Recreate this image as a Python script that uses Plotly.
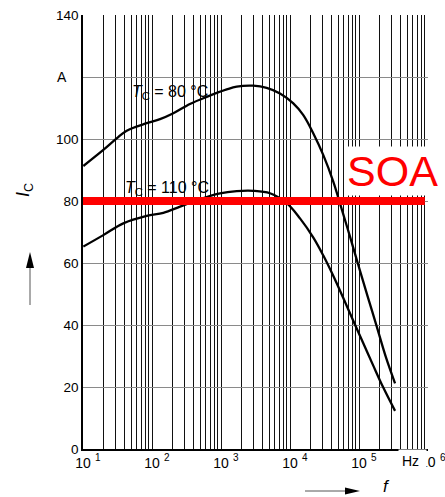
import numpy as np
import plotly.graph_objects as go

# ---- data -------------------------------------------------------------
# Collector current I_C (A) versus switching frequency f (Hz)
f_80 = [10.1, 19.7, 30.8, 43, 83.8, 130.6, 204, 355, 621, 1211, 1690, 2940,
        4590, 7160, 11170, 15600, 21800, 30400, 42500, 54800, 74100, 99400,
        134000, 181000, 244000, 333000]
ic_80 = [91.3, 96.5, 100.2, 102.7, 105.1, 106.4, 108.3, 111.3, 113.6, 116.0,
         116.9, 117.2, 116.5, 114.7, 111.5, 107.7, 101.8, 94.8, 86.2, 78.2,
         68.5, 58.8, 49.1, 39.5, 29.8, 21.2]

f_110 = [10.1, 19.7, 38.4, 83.8, 146, 255, 497, 968, 1690, 2940, 5130, 8960,
         13960, 21800, 30400, 42500, 59200, 82600, 115000, 161000, 225000,
         333000]
ic_110 = [65.3, 69.0, 72.8, 75.2, 76.2, 78.2, 80.6, 82.5, 83.2, 83.3, 82.5,
          79.3, 74.4, 68.2, 62.4, 55.8, 48.7, 41.4, 34.2, 26.9, 19.8, 12.3]

# safe operating area limit
soa_f = [10, 9.0e5]
soa_ic = [80, 80]

decades = [1, 2, 3, 4, 5, 6]
y_ticks = [0, 20, 40, 60, 80, 100, 120, 140]
y_text = ["0", "20", "40", "60", "80", "100", "", "140"]

# ---- geometry helpers (plot area in pixels) ----------------------------
L, R, T, B = 83, 428, 15, 449
W, H = R - L, B - T


def px_x(p):
    return (p - L) / W


def px_y(p):
    return (B - p) / H


def lx(p):
    # pixel column -> log10(f) on the x axis
    return 1 + (p - L) / (W / 5)


def ly(p):
    # pixel row -> I_C value
    return (B - p) * 140 / H


FONT = "Liberation Sans, Arial, Helvetica, sans-serif"

# gridline positions: 1..9 times every decade; decade labels as "10" + exponent
grid_vals = []
grid_text = []
for d in decades[:-1]:
    for m in range(1, 10):
        grid_vals.append(m * 10 ** d)
        grid_text.append("10" if m == 1 else "")
grid_vals.append(10 ** decades[-1])
grid_text.append("")  # last decade label is drawn as an annotation below

fig = go.Figure()
fig.add_trace(go.Scatter(x=f_80, y=ic_80, mode="lines",
                         line=dict(color="black", width=2.3, shape="spline", smoothing=1.0),
                         showlegend=False, hoverinfo="skip"))
fig.add_trace(go.Scatter(x=f_110, y=ic_110, mode="lines",
                         line=dict(color="black", width=2.3, shape="spline", smoothing=1.0),
                         showlegend=False, hoverinfo="skip"))
fig.add_trace(go.Scatter(x=soa_f, y=soa_ic, mode="lines",
                         line=dict(color="#ff0000", width=8),
                         showlegend=False, hoverinfo="skip"))

shapes = []
# white panels behind the curve labels (hide the grid there)
for x0, x1, y0, y1 in [(113, 122, 79, 107), (122, 227, 73, 107),
                       (113, 227, 172, 197), (172.3, 175.3, 107, 172)]:
    shapes.append(dict(type="rect", layer="between", xref="x", yref="y",
                       x0=lx(x0), x1=lx(x1), y0=ly(y1), y1=ly(y0),
                       fillcolor="white", line=dict(width=0)))

# direction arrows next to the axis titles
shapes.append(dict(type="line", xref="paper", yref="paper",
                   x0=px_x(30), x1=px_x(30), y0=px_y(305), y1=px_y(267),
                   line=dict(color="#555", width=1)))
shapes.append(dict(type="path", xref="paper", yref="paper",
                   path=f"M {px_x(30)},{px_y(252)} L {px_x(26)},{px_y(268)} "
                        f"L {px_x(34)},{px_y(268)} Z",
                   fillcolor="black", line=dict(width=0)))
shapes.append(dict(type="line", xref="paper", yref="paper",
                   x0=px_x(305), x1=px_x(346), y0=px_y(491), y1=px_y(491),
                   line=dict(color="#555", width=1)))
shapes.append(dict(type="path", xref="paper", yref="paper",
                   path=f"M {px_x(360)},{px_y(491)} L {px_x(345)},{px_y(487.5)} "
                        f"L {px_x(345)},{px_y(494.5)} Z",
                   fillcolor="black", line=dict(width=0)))

annotations = []
# "10" of the last decade
annotations.append(dict(x=decades[-1], y=0, xref="x", yref="paper", text="10",
                        xanchor="center", yanchor="middle", yshift=-13,
                        showarrow=False, font=dict(family=FONT, size=14, color="black")))
# decade exponents
for d in decades:
    annotations.append(dict(x=d, y=0, xref="x", yref="paper", text=str(d),
                            xshift=15, yshift=-8, xanchor="center", yanchor="middle",
                            showarrow=False,
                            font=dict(family=FONT, size=10, color="black")))
annotations.append(dict(x=lx(397.5), y=0, xref="x", yref="paper", text="Hz\u00a0",
                        xanchor="left", yanchor="middle", yshift=-12,
                        bgcolor="white", borderpad=3, showarrow=False,
                        font=dict(family=FONT, size=14, color="black")))
annotations.append(dict(x=px_x(62), y=120, xref="paper", yref="y", text="A",
                        xanchor="center", yanchor="middle",
                        showarrow=False, font=dict(family=FONT, size=14, color="black")))
annotations.append(dict(x=px_x(24), y=px_y(190), xref="paper", yref="paper",
                        text="<i>I</i><sub>C</sub>", textangle=-90, showarrow=False,
                        xanchor="center", yanchor="middle",
                        font=dict(family=FONT, size=18, color="black")))
annotations.append(dict(x=px_x(386), y=px_y(497), xref="paper", yref="paper",
                        text="<i>f</i>", showarrow=False, borderpad=0,
                        xanchor="center", yanchor="bottom",
                        font=dict(family=FONT, size=17, color="black")))
annotations.append(dict(x=lx(130), y=ly(92), xref="x", yref="y",
                        text="<i>T</i><sub>C</sub> = 80 °C", xanchor="left",
                        yanchor="middle",
                        showarrow=False, font=dict(family=FONT, size=16, color="black")))
annotations.append(dict(x=lx(123), y=ly(188), xref="x", yref="y",
                        text="<i>T</i><sub>C</sub> = 110 °C", xanchor="left",
                        yanchor="middle",
                        showarrow=False, font=dict(family=FONT, size=16, color="black")))
annotations.append(dict(x=lx(392.5), y=ly(171), xref="x", yref="y", text="SOA",
                        xanchor="center", yanchor="middle",
                        showarrow=False, bgcolor="white", borderpad=0,
                        font=dict(family=FONT, size=43, color="#ff0000")))

fig.update_layout(
    width=445, height=497,
    margin=dict(l=L, r=445 - R, t=T, b=497 - B, pad=0),
    paper_bgcolor="white", plot_bgcolor="white",
    shapes=shapes, annotations=annotations,
    xaxis=dict(type="log", range=[1, 6.00005], tickmode="array",
               tickvals=grid_vals, ticktext=grid_text, ticks="",
               automargin=False, ticklabeloverflow="allow",
               showgrid=True, gridcolor="#111", gridwidth=1.2,
               showline=True, linecolor="black", linewidth=1.5,
               zeroline=False, tickfont=dict(family=FONT, size=14, color="black")),
    yaxis=dict(range=[0, 140.01], tickmode="array", tickvals=y_ticks, ticktext=y_text,
               automargin=False, ticklabeloverflow="allow",
               ticks="", showgrid=True, gridcolor="#8a8a8a", gridwidth=1.2,
               showline=True, linecolor="black", linewidth=1.5, zeroline=False,
               tickfont=dict(family=FONT, size=13.5, color="black")),
)

fig.write_html("out.html")
